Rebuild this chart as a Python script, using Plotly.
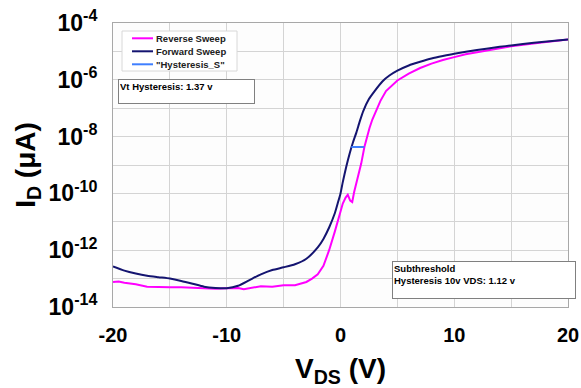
import plotly.graph_objects as go

# ---- data ----
fwd_vds = [-20, -19, -18, -17, -16, -15, -14, -13, -12, -11, -10, -9, -8, -7, -6, -5, -4, -3,
           -2, -1.5, -1, -0.5, -0.25, 0, 0.2, 0.5, 0.8, 1.1, 1.4, 1.7, 2.0, 2.5, 3.0, 3.7, 4.3,
           5, 6, 7, 8, 9, 10, 12, 14, 15, 17, 20]
fwd_id = [2.69e-13, 1.91e-13, 1.51e-13, 1.26e-13, 1.12e-13, 1.0e-13, 8.3e-14, 6.6e-14, 5.2e-14,
          4.7e-14, 4.6e-14, 5.6e-14, 8.9e-14, 1.41e-13, 2.0e-13, 2.5e-13, 3.2e-13, 5.0e-13,
          1.26e-12, 2.5e-12, 6.3e-12, 2.0e-11, 4.4e-11, 1.0e-10, 2.5e-10, 8.5e-10, 2.5e-9, 6.3e-9,
          1.41e-8, 3.5e-8, 7.9e-8, 2.1e-7, 4.0e-7, 8.9e-7, 1.41e-6, 2.1e-6, 3.2e-6, 4.3e-6,
          5.6e-6, 6.9e-6, 8.3e-6, 1.12e-5, 1.45e-5, 1.62e-5, 2.0e-5, 2.6e-5]

rev_vds = [-20, -19.5, -19, -18, -17, -16, -15, -14, -13, -12, -11, -10, -9, -8.5, -8, -7, -6,
           -5, -4, -3, -2.5, -2, -1.5, -1, -0.5, -0.2, 0.2, 0.45, 0.64, 0.85, 1.03, 1.2, 1.4,
           1.6, 1.82, 2.1, 2.3, 2.55, 2.8, 3.1, 3.5, 4.0, 4.5, 5, 6, 7, 8, 9, 10, 11, 12.5, 15,
           17.5, 20]
rev_id = [7.6e-14, 7.9e-14, 7.1e-14, 6.3e-14, 5.2e-14, 5.0e-14, 5.0e-14, 5.0e-14, 4.8e-14,
          4.6e-14, 4.4e-14, 4.6e-14, 4.7e-14, 4.2e-14, 4.5e-14, 5.4e-14, 5.2e-14, 5.8e-14,
          5.8e-14, 7.6e-14, 1.0e-13, 1.41e-13, 2.8e-13, 1.0e-12, 4.5e-12, 1.26e-11, 4.4e-11,
          7.1e-11, 8.9e-11, 5.6e-11, 5.0e-11, 1.12e-10, 2.2e-10, 5.0e-10, 1.12e-9, 4.3e-9,
          8.9e-9, 2.0e-8, 4.0e-8, 7.9e-8, 1.78e-7, 4.0e-7, 6.3e-7, 9.5e-7, 1.66e-6, 2.6e-6,
          3.7e-6, 5.0e-6, 6.3e-6, 7.9e-6, 1.02e-5, 1.51e-5, 2.0e-5, 2.6e-5]

hyst_vds = [0.95, 2.1]
hyst_id = [4.3e-9, 4.3e-9]

series_names = ["Reverse Sweep", "Forward Sweep", "\"Hysteresis_S\""]
series_colors = ["#FF00FF", "#141470", "#3F7FFF"]

y_exponents = [-14, -13, -12, -11, -10, -9, -8, -7, -6, -5, -4]
y_ticktext = ["10<sup>-14</sup>", "", "10<sup>-12</sup>", "", "10<sup>-10</sup>", "",
              "10<sup>-8</sup>", "", "10<sup>-6</sup>", "", "10<sup>-4</sup>"]
x_gridvals = [-20, -15, -10, -5, 0, 5, 10, 15, 20]
x_ticktext = ["-20", "", "-10", "", "0", "", "10", "", "20"]

FONT = "Arial, Liberation Sans, sans-serif"

# plot-area geometry in pixels (for paper-coordinate conversion of boxes)
L, R, T, B = 113, 568, 23, 307
def px(x):
    return (x - L) / (R - L)
def py(y):
    return (B - y) / (B - T)

fig = go.Figure()
for xs, ys, nm, col, shp in [(rev_vds, rev_id, series_names[0], series_colors[0], "linear"),
                             (fwd_vds, fwd_id, series_names[1], series_colors[1], "spline"),
                             (hyst_vds, hyst_id, series_names[2], series_colors[2], "linear")]:
    fig.add_trace(go.Scatter(x=xs, y=ys, mode="lines", name=nm,
                             line=dict(color=col, width=2, shape=shp, smoothing=0.6),
                             showlegend=False))

fig.update_layout(
    width=581, height=388,
    margin=dict(l=L, r=581 - R, t=T, b=388 - B),
    paper_bgcolor="white", plot_bgcolor="#FDFDFD",
    font=dict(family=FONT, color="black"),
    showlegend=False,
)
fig.update_xaxes(
    range=[-20, 20], tickvals=x_gridvals, ticktext=x_ticktext, automargin=False,
    showgrid=True, gridcolor="#D4D4D4", gridwidth=1, zeroline=False,
    showline=True, mirror=True, linecolor="#A8A8A8", linewidth=1,
    ticks="outside", ticklen=10, tickcolor="rgba(0,0,0,0)",
    tickfont=dict(size=20, family=FONT, weight="bold"),
    title=dict(text="<b>V<sub>DS</sub> (V)</b>", font=dict(size=28, family=FONT),
               standoff=14),
)
fig.update_yaxes(
    type="log", range=[-14, -4], automargin=False,
    tickvals=[10.0 ** e for e in y_exponents], ticktext=y_ticktext,
    showgrid=True, gridcolor="#D4D4D4", gridwidth=1, zeroline=False,
    showline=True, mirror=True, linecolor="#A8A8A8", linewidth=1,
    ticks="outside", ticklen=10, tickcolor="rgba(0,0,0,0)",
    tickfont=dict(size=23, family=FONT, weight="bold"),
    title=dict(text="<b>I<sub>D</sub> (μA)</b>", font=dict(size=28, family=FONT),
               standoff=4),
)

# legend box (drawn as shapes + real text, to match the tight entry spacing)
fig.add_shape(type="rect", xref="paper", yref="paper",
              x0=px(122), x1=px(237), y0=py(71), y1=py(31),
              line=dict(color="#D8D8D8", width=1), fillcolor="white", layer="above")
for i, (nm, col) in enumerate(zip(series_names, series_colors)):
    yy = 38.3 + i * 13
    fig.add_shape(type="line", xref="paper", yref="paper",
                  x0=px(132), x1=px(153), y0=py(yy), y1=py(yy),
                  line=dict(color=col, width=2), layer="above")
    fig.add_annotation(xref="paper", yref="paper", x=px(153.5), y=py(yy),
                       xanchor="left", yanchor="middle", showarrow=False,
                       text="<b>" + nm + "</b>", font=dict(size=9.5, family=FONT, color="#202020"))

fig.add_annotation(
    xref="paper", yref="paper", x=px(118), y=py(79),
    xanchor="left", yanchor="top", showarrow=False,
    text="<b>Vt Hysteresis: 1.37 v</b>", align="left", valign="top",
    width=133, height=21, borderpad=1,
    bordercolor="#808080", borderwidth=1, bgcolor="white",
    font=dict(size=9.5, family=FONT),
)
fig.add_annotation(
    xref="paper", yref="paper", x=px(392), y=py(261),
    xanchor="left", yanchor="top", showarrow=False,
    text="<b>Subthreshold<br>Hysteresis 10v VDS: 1.12 v</b>", align="left", valign="top",
    width=180, height=34, borderpad=1,
    bordercolor="#808080", borderwidth=1, bgcolor="white",
    font=dict(size=9.5, family=FONT),
)

fig.write_html("out.html")
